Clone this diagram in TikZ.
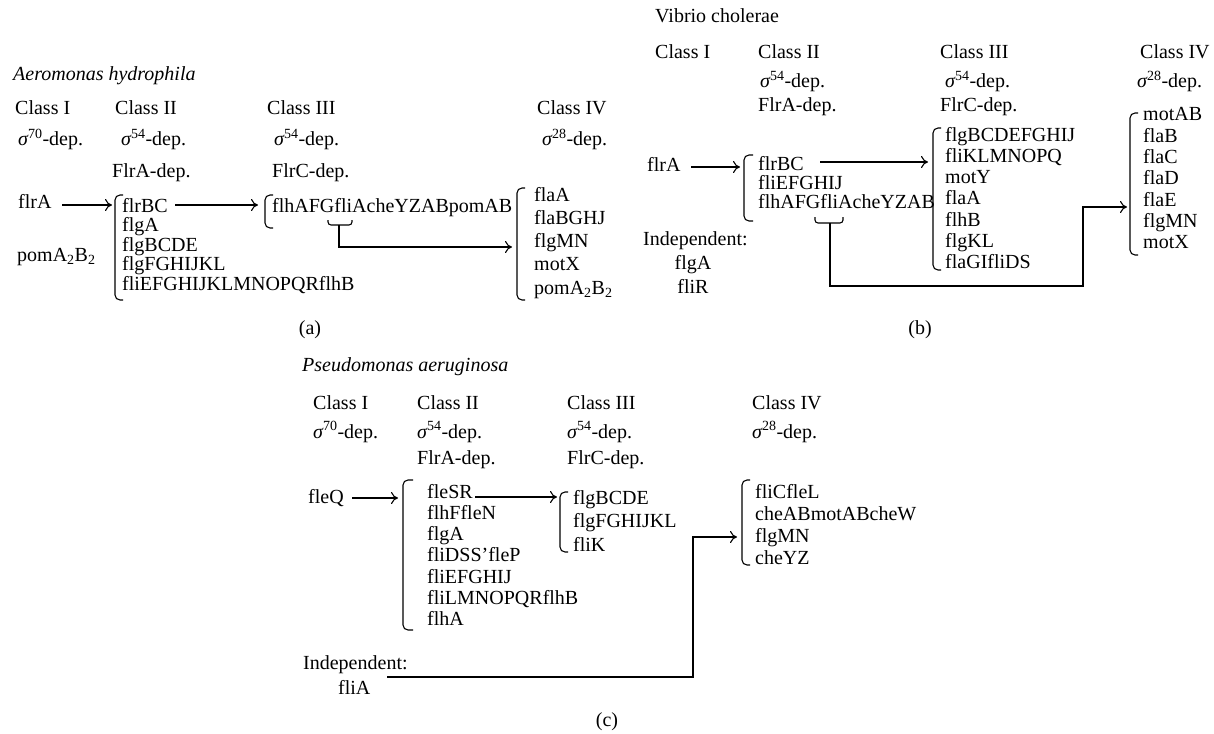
\documentclass[tikz,border=0pt]{standalone}
\usepackage{fontspec}
\setmainfont{Liberation Serif}
\usetikzlibrary{arrows.meta}
\newcommand\sigdep[1]{{\itshape σ}\textsuperscript{#1}-dep.}
\begin{document}
\begin{tikzpicture}[x=1pt,y=-1pt,
  txt/.style={anchor=base west,inner sep=0pt,font=\fontsize{20}{20}\selectfont},
  ctr/.style={anchor=base,inner sep=0pt,font=\fontsize{20}{20}\selectfont},
  brk/.style={line width=1.1pt,rounded corners=5pt},
  conn/.style={line width=1.1pt},
  arr/.style={line width=1.1pt,-{Computer Modern Rightarrow[length=7pt,width=12pt]}}]
\useasboundingbox (0,0) rectangle (1214,733);

% ================= Panel (a) =================
\node[txt,font=\fontsize{20}{20}\selectfont\itshape] (a-title) at (13,81) {Aeromonas hydrophila};
\node[txt] (a-c1) at (15,114) {Class I};
\node[txt] (a-c2) at (115,114) {Class II};
\node[txt] (a-c3) at (267,114) {Class III};
\node[txt] (a-c4) at (537,114) {Class IV};
\node[txt] (a-s1) at (18,146) {\sigdep{70}};
\node[txt] (a-s2) at (121,146) {\sigdep{54}};
\node[txt] (a-s3) at (274,146) {\sigdep{54}};
\node[txt] (a-s4) at (542,146) {\sigdep{28}};
\node[txt] (a-d2) at (112,177) {FlrA-dep.};
\node[txt] (a-d3) at (272,177) {FlrC-dep.};
\node[txt] (a-flrA) at (18,208) {flrA};
\node[txt] (a-pom) at (17,261) {pomA\textsubscript{2}B\textsubscript{2}};
\foreach \t [count=\i] in {flrBC,flgA,flgBCDE,flgFGHIJKL,fliEFGHIJKLMNOPQRflhB}
  \node[txt] (a2-\i) at (122,{212+19.5*(\i-1)}) {\t};
\node[txt] (a3-1) at (272,212) {flhAFGfliAcheYZABpomAB};
\foreach \t [count=\i] in {flaA,flaBGHJ,flgMN,motX,{pomA\textsubscript{2}B\textsubscript{2}}}
  \node[txt] (a4-\i) at (534,{201+23.3*(\i-1)}) {\t};
\node[ctr] (a-lab) at (310,334) {(a)};
% brackets
\draw[brk] (123,195) -- (115,195) -- (115,300) -- (123,300);
\draw[brk] (273,195) -- (265,195) -- (265,228) -- (273,228);
\draw[brk] (525,188) -- (517,188) -- (517,300) -- (525,300);
\draw[brk,rounded corners=3pt] (328,220) -- (328,225) -- (352,225) -- (352,220);
% connectors
\coordinate (a-flrA-out) at (62,205);
\coordinate (a-II-in) at (112,205);
\coordinate (a-flrBC-out) at (175,205);
\coordinate (a-III-in) at (258,205);
\coordinate (a-sub) at (339,225);
\coordinate (a-IV-in) at (512,247);
\draw[arr] (a-flrA-out) -- (a-II-in);
\draw[arr] (a-flrBC-out) -- (a-III-in);
\draw[arr] (a-sub) |- (a-IV-in);

% ================= Panel (b) =================
\node[txt] (b-title) at (655,23) {Vibrio cholerae};
\node[txt] (b-c1) at (655,59) {Class I};
\node[txt] (b-c2) at (758,59) {Class II};
\node[txt] (b-c3) at (940,59) {Class III};
\node[txt] (b-c4) at (1140,59) {Class IV};
\node[txt] (b-s2) at (760,88) {\sigdep{54}};
\node[txt] (b-s3) at (945,88) {\sigdep{54}};
\node[txt] (b-s4) at (1137,88) {\sigdep{28}};
\node[txt] (b-d2) at (758,111) {FlrA-dep.};
\node[txt] (b-d3) at (940,111) {FlrC-dep.};
\node[txt] (b-flrA) at (647,171) {flrA};
\foreach \t [count=\i] in {flrBC,fliEFGHIJ,flhAFGfliAcheYZAB}
  \node[txt] (b2-\i) at (758,{170+19*(\i-1)}) {\t};
\foreach \t [count=\i] in {flgBCDEFGHIJ,fliKLMNOPQ,motY,flaA,flhB,flgKL,flaGIfliDS}
  \node[txt] (b3-\i) at (945,{141+21.3*(\i-1)}) {\t};
\foreach \t [count=\i] in {motAB,flaB,flaC,flaD,flaE,flgMN,motX}
  \node[txt] (b4-\i) at (1143,{121+21.3*(\i-1)}) {\t};
\node[txt] (b-ind) at (643,245) {Independent:};
\node[ctr] (b-flgA) at (693,269) {flgA};
\node[ctr] (b-fliR) at (693,293) {fliR};
\node[ctr] (b-lab) at (920,334) {(b)};
% brackets
\draw[brk] (753,155) -- (744,155) -- (744,221) -- (753,221);
\draw[brk] (941,128) -- (933,128) -- (933,270) -- (941,270);
\draw[brk] (1138,113) -- (1130,113) -- (1130,255) -- (1138,255);
\draw[brk,rounded corners=3pt] (815,217) -- (815,223) -- (843,223) -- (843,217);
% connectors
\coordinate (b-flrA-out) at (691,167);
\coordinate (b-II-in) at (740,167);
\coordinate (b-flrBC-out) at (820,162);
\coordinate (b-III-in) at (928,162);
\coordinate (b-sub) at (830,223);
\coordinate (b-turn) at (1083,286);
\coordinate (b-IV-in) at (1127,207);
\draw[arr] (b-flrA-out) -- (b-II-in);
\draw[arr] (b-flrBC-out) -- (b-III-in);
\draw[arr] (b-sub) |- (b-turn) |- (b-IV-in);

% ================= Panel (c) =================
\node[txt,font=\fontsize{20}{20}\selectfont\itshape] (c-title) at (302,371) {Pseudomonas aeruginosa};
\node[txt] (c-c1) at (313,409) {Class I};
\node[txt] (c-c2) at (417,409) {Class II};
\node[txt] (c-c3) at (567,409) {Class III};
\node[txt] (c-c4) at (752,409) {Class IV};
\node[txt] (c-s1) at (313,438) {\sigdep{70}};
\node[txt] (c-s2) at (417,438) {\sigdep{54}};
\node[txt] (c-s3) at (567,438) {\sigdep{54}};
\node[txt] (c-s4) at (752,438) {\sigdep{28}};
\node[txt] (c-d2) at (417,464) {FlrA-dep.};
\node[txt] (c-d3) at (567,464) {FlrC-dep.};
\node[txt] (c-fleQ) at (308,503) {fleQ};
\foreach \t [count=\i] in {fleSR,flhFfleN,flgA,fliDSS’fleP,fliEFGHIJ,fliLMNOPQRflhB,flhA}
  \node[txt] (c2-\i) at (427,{498+21.3*(\i-1)}) {\t};
\foreach \t [count=\i] in {flgBCDE,flgFGHIJKL,fliK}
  \node[txt] (c3-\i) at (573,{504+23.5*(\i-1)}) {\t};
\foreach \t [count=\i] in {fliCfleL,cheABmotABcheW,flgMN,cheYZ}
  \node[txt] (c4-\i) at (755,{498+22*(\i-1)}) {\t};
\node[txt] (c-ind) at (303,669) {Independent:};
\node[txt] (c-fliA) at (338,694) {fliA};
\node[ctr] (c-lab) at (607,726) {(c)};
% brackets
\draw[brk] (413,480) -- (403,480) -- (403,630) -- (413,630);
\draw[brk] (568,492) -- (560,492) -- (560,552) -- (568,552);
\draw[brk] (750,480) -- (742,480) -- (742,565) -- (750,565);
% connectors
\coordinate (c-fleQ-out) at (352,498);
\coordinate (c-II-in) at (398,498);
\coordinate (c-fleSR-out) at (475,497);
\coordinate (c-III-in) at (557,497);
\coordinate (c-fliA-out) at (387,677);
\coordinate (c-turn) at (693,537);
\coordinate (c-IV-in) at (737,537);
\draw[arr] (c-fleQ-out) -- (c-II-in);
\draw[arr] (c-fleSR-out) -- (c-III-in);
\draw[arr] (c-fliA-out) -| (c-turn) -- (c-IV-in);
\end{tikzpicture}
\end{document}
